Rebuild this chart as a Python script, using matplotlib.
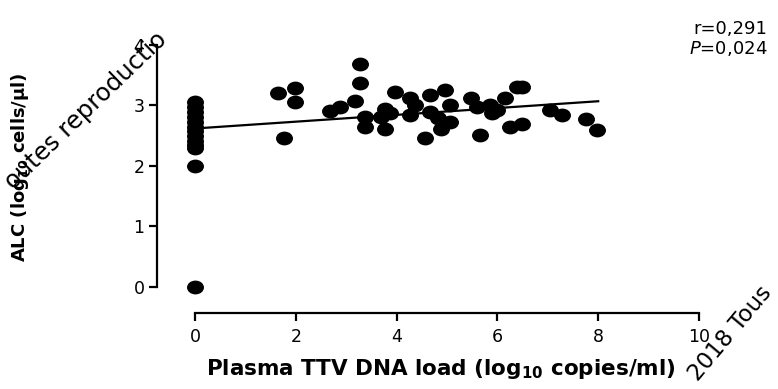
import numpy as np
import matplotlib.pyplot as plt
from matplotlib.path import Path
from matplotlib.transforms import Affine2D

# plasma TTV DNA load (log10 copies/ml) and ALC (log10 cells/ul)
ttv_zero = [0, 0, 0, 0, 0, 0, 0, 0, 0, 0, 0, 0, 0]
alc_zero = [3.06, 2.98, 2.90, 2.81, 2.73, 2.65, 2.58, 2.50, 2.42, 2.35, 2.30, 2.00, 0.00]

ttv_pos = [1.65, 1.98, 1.98, 1.77, 2.68, 2.88, 3.17, 3.27, 3.27, 3.37, 3.37,
           3.70, 3.77, 3.77, 3.87, 3.97, 4.27, 4.27, 4.37, 4.56, 4.66, 4.66,
           4.83, 4.89, 4.96, 5.06, 5.06, 5.47, 5.59, 5.65, 5.85, 5.89, 5.99,
           6.15, 6.25, 6.38, 6.48, 6.48, 7.04, 7.28, 7.76, 7.97]
alc_pos = [3.20, 3.29, 3.06, 2.47, 2.91, 2.98, 3.08, 3.68, 3.38, 2.81, 2.64,
           2.81, 2.95, 2.61, 2.87, 3.22, 3.12, 2.84, 3.01, 2.47, 3.17, 2.90,
           2.79, 2.61, 3.26, 3.01, 2.72, 3.12, 2.98, 2.51, 3.01, 2.87, 2.93,
           3.12, 2.65, 3.31, 3.31, 2.69, 2.93, 2.84, 2.78, 2.60]

# linear fit as drawn
fit_x = [0, 8]
fit_intercept = 2.62
fit_slope = 0.0563

r_text = "r=0,291"
p_text = "$\\mathit{P}$=0,024"

plt.rcParams['font.family'] = ['DejaVu Sans']

fig = plt.figure(figsize=(7.78, 3.89), dpi=100)
ax = fig.add_axes([157 / 778, 76 / 389, 542 / 778, 268 / 389])

# slightly wide dots, like the original
ellipse = Path.unit_circle().transformed(Affine2D().scale(1.25, 1.0))

x_all = ttv_zero + ttv_pos
y_all = alc_zero + alc_pos
ax.scatter(x_all, y_all, marker=ellipse, s=125, color='black', clip_on=False, zorder=3)

fx = np.array(fit_x)
ax.plot(fx, fit_intercept + fit_slope * fx, color='black', lw=1.6, zorder=2)

ax.set_xlim(-0.754, 10)
ax.set_ylim(-0.43, 4)
ax.set_xticks([0, 2, 4, 6, 8, 10])
ax.set_yticks([0, 1, 2, 3, 4])

for side in ['top', 'right']:
    ax.spines[side].set_visible(False)
ax.spines['left'].set_bounds(0, 4)
ax.spines['bottom'].set_bounds(0, 10)
for side in ['left', 'bottom']:
    ax.spines[side].set_linewidth(1.6)
ax.tick_params(width=1.6, length=6, labelsize=12.5, colors='black')
ax.tick_params(axis='x', pad=5)
ax.tick_params(axis='y', pad=3)

ax.set_xlabel("Plasma TTV DNA load (log$_{\\mathbf{10}}$ copies/ml)",
              fontsize=15.5, fontweight='bold')
ax.xaxis.set_label_coords((441 - 157) / 542, -0.165)
ax.set_ylabel("ALC (log$_{\\mathbf{10}}$ cells/μl)", fontsize=13, fontweight='bold')
ax.yaxis.set_label_coords(-(157 - 31) / 542, (389 - 167 - 76) / 268)

fig.text(767 / 778, 1 - 29 / 389, r_text, ha='right', va='center', fontsize=13)
fig.text(767 / 778, 1 - 48 / 389, p_text, ha='right', va='center', fontsize=13)

# watermark fragments
fig.text(14 / 778, 1 - 190 / 389, "outes reproductio", rotation=44, fontsize=17.5,
         rotation_mode='anchor', ha='left', va='baseline', color='black', zorder=5)
fig.text(698 / 778, 1 - 382 / 389, "2018 Tous", rotation=50, fontsize=16.5,
         rotation_mode='anchor', ha='left', va='baseline', color='black', zorder=5)

fig.savefig("out.png", dpi=100)
